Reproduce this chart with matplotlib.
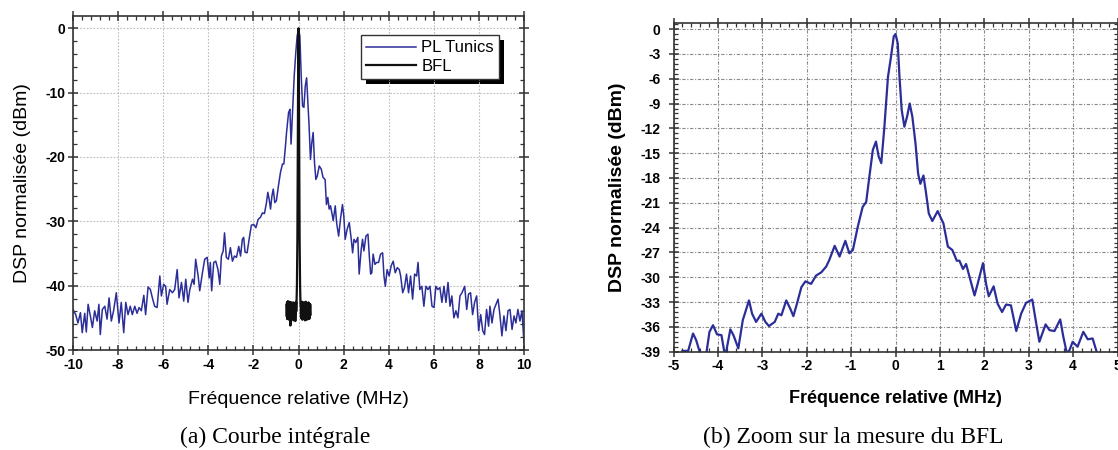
import numpy as np
import matplotlib.pyplot as plt
from matplotlib.ticker import MultipleLocator
from matplotlib.patches import Rectangle

# ---- data (a) : PL Tunics, full span
tun_f = [-10.0, -9.88, -9.78, -9.67, -9.59, -9.48, -9.41, -9.33, -9.23, -9.14, -9.04, -8.93, -8.85, -8.79,
         -8.70, -8.59, -8.49, -8.40, -8.30, -8.20, -8.08, -7.96, -7.86, -7.75, -7.66, -7.56, -7.46, -7.37,
         -7.26, -7.16, -7.07, -6.97, -6.86, -6.78, -6.67, -6.57, -6.48, -6.38, -6.27, -6.15, -6.08, -5.98,
         -5.89, -5.83, -5.71, -5.59, -5.49, -5.38, -5.30, -5.19, -5.09, -5.00, -4.90, -4.82, -4.70, -4.63,
         -4.56, -4.45, -4.38, -4.26, -4.16, -4.05, -3.96, -3.91, -3.85, -3.76, -3.67, -3.57, -3.49, -3.42,
         -3.34, -3.28, -3.20, -3.11, -3.02, -2.93, -2.84, -2.75, -2.65, -2.57, -2.49, -2.43, -2.37, -2.28,
         -2.19, -2.09, -1.98, -1.89, -1.79, -1.69, -1.60, -1.51, -1.42, -1.36, -1.30, -1.24, -1.18, -1.12,
         -1.05, -0.98, -0.89, -0.80, -0.71, -0.65, -0.59, -0.53, -0.44, -0.38, -0.33, -0.27, -0.19, -0.12,
         -0.06, 0.0, 0.06, 0.12, 0.18, 0.24, 0.30, 0.36, 0.41, 0.47, 0.53, 0.59, 0.65, 0.71, 0.77, 0.83,
         0.92, 1.01, 1.09, 1.18, 1.24, 1.30, 1.36, 1.42, 1.48, 1.54, 1.63, 1.69, 1.78, 1.86, 1.95, 2.01,
         2.07, 2.16, 2.25, 2.34, 2.40, 2.46, 2.54, 2.63, 2.69, 2.78, 2.84, 2.90, 2.99, 3.08, 3.14, 3.20,
         3.25, 3.31, 3.39, 3.46, 3.55, 3.64, 3.73, 3.79, 3.85, 3.93, 4.02, 4.11, 4.20, 4.29, 4.38, 4.47,
         4.53, 4.62, 4.70, 4.79, 4.88, 4.97, 5.06, 5.15, 5.24, 5.30, 5.38, 5.47, 5.56, 5.65, 5.74, 5.83,
         5.92, 6.01, 6.09, 6.18, 6.27, 6.36, 6.45, 6.54, 6.63, 6.72, 6.80, 6.89, 6.98, 7.07, 7.16, 7.25,
         7.37, 7.46, 7.54, 7.63, 7.72, 7.81, 7.90, 7.99, 8.08, 8.17, 8.25, 8.34, 8.43, 8.49, 8.58, 8.67,
         8.76, 8.85, 8.93, 9.02, 9.11, 9.20, 9.29, 9.38, 9.47, 9.56, 9.64, 9.73, 9.82, 9.91, 10.0]
tun_dsp = [-43.7, -44.5, -45.8, -44.2, -47.3, -44.3, -47.2, -42.9, -44.7, -46.5, -43.9, -45.5, -42.9, -47.6,
           -43.7, -43.2, -45.2, -41.9, -45.5, -43.9, -41.1, -45.8, -42.6, -47.3, -42.6, -44.5, -43.2, -44.5,
           -43.2, -44.3, -43.4, -43.9, -41.5, -44.5, -40.2, -40.6, -41.9, -43.2, -43.4, -38.5, -41.6, -39.8,
           -40.1, -42.9, -40.6, -41.1, -40.6, -37.5, -41.9, -39.5, -42.4, -39.0, -42.6, -40.6, -39.0, -39.8,
           -35.9, -38.5, -40.8, -38.0, -35.9, -35.6, -38.8, -36.4, -40.8, -36.4, -36.2, -37.5, -39.8, -35.4,
           -34.6, -31.8, -35.6, -35.9, -34.1, -36.2, -35.4, -35.6, -33.9, -35.4, -32.8, -32.5, -34.8, -34.9,
           -32.8, -30.6, -30.5, -31.0, -29.7, -29.4, -28.7, -28.8, -27.1, -25.5, -26.6, -28.1, -26.1, -25.0,
           -27.1, -26.8, -24.5, -22.4, -21.1, -21.1, -18.8, -16.2, -13.1, -12.6, -18.0, -13.6, -7.4, -3.8,
           -1.2, -0.2, -1.2, -7.4, -12.1, -12.3, -9.0, -7.7, -11.0, -15.2, -20.4, -17.8, -16.2, -20.9, -23.5, -23.0,
           -21.4, -21.9, -23.2, -23.5, -27.4, -26.3, -28.1, -27.6, -28.7, -29.9, -27.6, -30.2, -32.3, -29.7, -27.4, -29.2,
           -32.8, -31.2, -30.2, -32.8, -34.9, -32.8, -33.3, -32.5, -38.2, -34.4, -32.8, -34.6, -32.3, -32.0, -35.4, -38.2,
           -38.0, -35.1, -36.7, -36.4, -36.4, -35.1, -34.9, -38.5, -40.1, -37.5, -38.5, -36.9, -36.2, -38.0, -37.2, -37.5,
           -38.5, -41.1, -40.3, -38.2, -41.1, -38.5, -42.1, -38.2, -38.5, -36.4, -40.6, -40.1, -43.2, -40.1, -40.6, -40.1,
           -43.2, -43.4, -40.1, -40.6, -40.3, -42.6, -40.1, -42.6, -39.5, -43.2, -41.6, -45.0, -43.9, -45.0, -41.6, -41.1,
           -40.1, -43.7, -41.3, -41.1, -44.5, -42.6, -41.6, -47.0, -44.5, -47.0, -47.6, -43.7, -46.3, -43.2, -45.8, -43.7,
           -42.9, -42.1, -44.5, -47.8, -44.7, -47.0, -43.9, -43.7, -46.8, -44.7, -45.8, -43.7, -45.5, -43.9, -48.9]

# ---- data (a) : BFL, narrow line with noise floor
bfl_noise_left = [-43.0, -44.8, -42.6, -45.2, -43.1, -44.5, -42.4, -45.0, -43.3, -44.9, -42.7, -45.3, -43.0, -44.6,
                  -42.5, -45.1, -43.4, -46.2, -42.9, -45.8, -43.2, -44.7, -42.6, -45.0, -43.5, -44.4, -42.8, -45.2,
                  -43.1, -44.9, -42.6, -45.4, -43.3, -44.6, -42.9, -45.1, -43.6, -44.8, -42.7, -45.5, -43.0, -44.3,
                  -42.5, -44.0]
bfl_peak_f = [-0.09, -0.07, -0.05, -0.035, -0.02, -0.01, 0.0, 0.01, 0.02, 0.035, 0.05, 0.07, 0.09]
bfl_peak_dsp = [-43.0, -40.0, -33.0, -22.0, -10.0, -3.0, 0.0, -3.0, -10.0, -22.0, -33.0, -40.0, -43.0]
bfl_noise_right = [-43.5, -44.9, -42.6, -45.1, -43.0, -44.6, -42.5, -45.3, -43.2, -44.8, -42.7, -45.0, -43.4, -44.5,
                   -42.6, -45.2, -43.1, -44.9, -42.8, -45.4, -43.3, -44.6, -42.5, -45.1, -43.0, -44.8, -42.7, -45.3,
                   -43.5, -44.5, -42.9, -45.0, -43.2, -44.7, -42.6, -45.2, -43.1, -44.9, -42.8, -45.1, -43.4, -44.6,
                   -42.9, -44.5]

# ---- data (b) : zoom on the BFL
zoom_f = [-4.80, -4.67, -4.56, -4.49, -4.40, -4.26, -4.19, -4.11, -4.02, -3.92, -3.85, -3.81, -3.72, -3.65,
          -3.54, -3.44, -3.30, -3.23, -3.14, -3.02, -2.93, -2.85, -2.72, -2.64, -2.57, -2.46, -2.37, -2.30,
          -2.22, -2.12, -2.03, -1.90, -1.79, -1.67, -1.56, -1.49, -1.37, -1.26, -1.13, -1.04, -0.96, -0.85,
          -0.74, -0.66, -0.59, -0.51, -0.44, -0.38, -0.32, -0.25, -0.17, -0.10, -0.04, 0.0, 0.05, 0.09,
          0.14, 0.20, 0.26, 0.32, 0.38, 0.45, 0.51, 0.56, 0.63, 0.69, 0.75, 0.83, 0.95, 1.08, 1.18, 1.28,
          1.38, 1.44, 1.52, 1.59, 1.67, 1.78, 1.85, 1.97, 2.04, 2.10, 2.21, 2.30, 2.40, 2.49, 2.60, 2.72,
          2.83, 2.94, 3.08, 3.17, 3.24, 3.38, 3.47, 3.58, 3.71, 3.78, 3.86, 3.92, 3.99, 4.10, 4.23, 4.33,
          4.44, 4.53, 4.59]
zoom_dsp = [-38.9, -38.9, -36.8, -37.6, -39.2, -39.2, -36.6, -35.8, -36.9, -37.0, -39.2, -38.9, -36.3, -37.0,
            -38.6, -35.2, -32.8, -34.4, -35.4, -34.4, -35.4, -35.9, -35.4, -34.4, -34.6, -32.8, -33.8, -34.7,
            -33.2, -31.2, -30.5, -30.8, -29.8, -29.4, -28.7, -27.9, -26.2, -27.5, -25.6, -27.1, -26.7, -23.9,
            -21.5, -20.9, -17.9, -14.6, -13.6, -15.4, -16.2, -11.8, -5.8, -3.3, -0.9, -0.6, -1.7, -5.8,
            -9.8, -11.8, -10.6, -9.0, -10.6, -13.8, -17.5, -18.7, -17.7, -19.9, -22.3, -23.2, -22.0, -23.5, -26.3, -26.7,
            -28.0, -28.0, -29.0, -28.4, -30.0, -32.2, -30.8, -28.3, -30.8, -32.3, -31.1, -33.2, -34.2, -33.3, -33.4, -36.5,
            -34.4, -33.1, -32.7, -35.6, -37.8, -35.7, -36.4, -36.5, -35.1, -37.2, -39.2, -38.8, -37.8, -38.4, -36.6, -37.5,
            -37.4, -39.0, -39.6]

bfl_f = list(np.round(np.arange(-0.53, -0.095, 0.01), 3)) + bfl_peak_f + list(np.round(np.arange(0.10, 0.535, 0.01), 3))
bfl_dsp = bfl_noise_left + bfl_peak_dsp + bfl_noise_right

blue = '#2b2e98'
plt.rcParams['font.family'] = ['Liberation Sans', 'DejaVu Sans']
plt.rcParams['axes.unicode_minus'] = False

fig = plt.figure(figsize=(11.18, 4.5), dpi=100)
ax1 = fig.add_axes([73 / 1118, 100 / 450, 451 / 1118, 334 / 450])
ax2 = fig.add_axes([673.5 / 1118, 98.3 / 450, 444 / 1118, 328.4 / 450])


def style(ax, gridstyle, gridcolor):
    for s in ax.spines.values():
        s.set_linewidth(1.2)
        s.set_color('#333333')
    ax.tick_params(which='major', direction='inout', length=7, width=1.1, color='#333333',
                   labelsize=10, pad=2)
    ax.tick_params(which='minor', direction='in', length=3, width=0.9, color='#333333')
    ax.tick_params(which='both', top=True, right=True)
    ax.grid(True, which='major', ls=gridstyle, color=gridcolor, lw=0.8)
    for lab in ax.get_xticklabels() + ax.get_yticklabels():
        lab.set_fontweight('bold')


# (a)
ax1.plot(tun_f, tun_dsp, color=blue, lw=1.1, label='PL Tunics')
ax1.plot(bfl_f, bfl_dsp, color='#111111', lw=1.6, label='BFL')
ax1.set_xlim(-10, 10)
ax1.set_ylim(-50, 1.9)
ax1.xaxis.set_major_locator(MultipleLocator(2))
ax1.xaxis.set_minor_locator(MultipleLocator(0.4))
ax1.yaxis.set_major_locator(MultipleLocator(10))
ax1.yaxis.set_minor_locator(MultipleLocator(2))
style(ax1, (0, (1.5, 1.5)), '#bdbdbd')
ax1.set_xlabel('Fréquence relative (MHz)', fontsize=14, labelpad=14)
ax1.set_ylabel('DSP normalisée (dBm)', fontsize=14, labelpad=10)
leg = ax1.legend(loc='upper right', bbox_to_anchor=(0.963, 0.967), fontsize=12, fancybox=False,
                 framealpha=1, edgecolor='#333333', handlelength=3.0, borderpad=0.3,
                 labelspacing=0.2, handletextpad=0.35)
leg.get_frame().set_linewidth(1.0)

# (b)
ax2.plot(zoom_f, zoom_dsp, color=blue, lw=1.6)
ax2.set_xlim(-5, 5)
ax2.set_ylim(-39, 0.7)
ax2.xaxis.set_major_locator(MultipleLocator(1))
ax2.xaxis.set_minor_locator(MultipleLocator(0.2))
ax2.yaxis.set_major_locator(MultipleLocator(3))
ax2.yaxis.set_minor_locator(MultipleLocator(0.6))
style(ax2, (0, (3, 1.5, 1, 1.5)), '#8a8a8a')
ax2.tick_params(axis='y', which='major', pad=6)
ax2.set_xlabel('Fréquence relative (MHz)', fontsize=13, fontweight='bold', labelpad=12)
ax2.set_ylabel('DSP normalisée (dBm)', fontsize=14, fontweight='bold', labelpad=10)

fig.text(275 / 1118, 0.027, '(a) Courbe intégrale', ha='center', va='center',
         fontsize=17, family='Liberation Serif')
fig.text(853 / 1118, 0.027, '(b) Zoom sur la mesure du BFL', ha='center', va='center',
         fontsize=17, family='Liberation Serif')

# solid black drop shadow behind the legend box
fig.canvas.draw()
bb = leg.get_window_extent().transformed(fig.transFigure.inverted())
fig.patches.append(Rectangle((bb.x0 + 5 / 1118, bb.y0 - 5 / 450), bb.width, bb.height,
                             transform=fig.transFigure, facecolor='black', edgecolor='none',
                             zorder=2))
ax1.set_zorder(3)
ax1.patch.set_alpha(0)

fig.savefig('out.png', dpi=100)
